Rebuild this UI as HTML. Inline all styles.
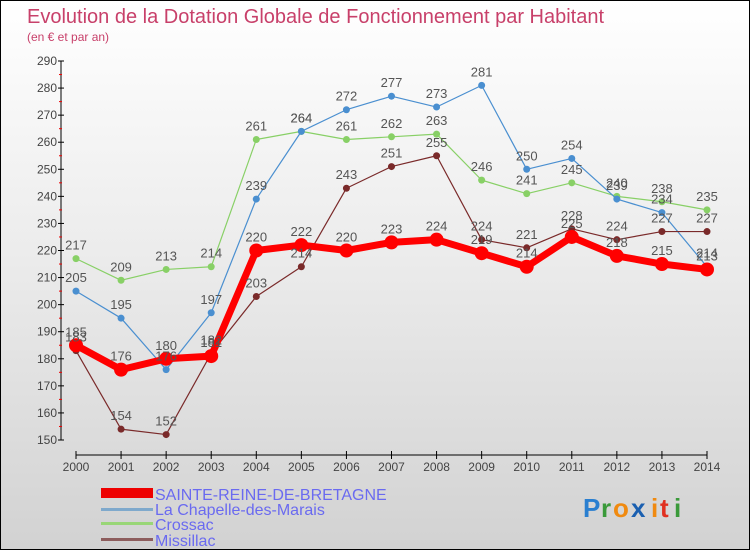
<!DOCTYPE html>
<html><head><meta charset="utf-8"><style>
body{margin:0}
#c{width:750px;height:550px;position:relative;overflow:hidden;box-sizing:border-box;border:1px solid #000;background:linear-gradient(#fff 0%,#eaeaea 50%,#d2d2d2 100%);font-family:"Liberation Sans",sans-serif}
svg text{font-family:"Liberation Sans",sans-serif}
</style></head><body>
<div id="c">
<svg id="s" width="750" height="550">
<text x="26" y="22" font-size="20" fill="#c8406a">Evolution de la Dotation Globale de Fonctionnement par Habitant</text>
<text x="26" y="40" font-size="12" fill="#c8406a">(en € et par an)</text>
<g id="axes"></g><g id="series"></g><g id="labels"></g>
<g>
<rect x="100" y="487" width="52" height="10" fill="#e00"/>
<text x="154" y="499" font-size="16" fill="#6a6af0">SAINTE-REINE-DE-BRETAGNE</text>
<rect x="100" y="507" width="52" height="3" fill="#7fa9cc"/>
<text x="154" y="514" font-size="16" fill="#6a6af0">La Chapelle-des-Marais</text>
<rect x="100" y="521" width="52" height="3" fill="#99d677"/>
<text x="154" y="529" font-size="16" fill="#6a6af0">Crossac</text>
<rect x="100" y="537" width="52" height="3" fill="#8d5d5d"/>
<text x="154" y="545" font-size="16" fill="#6a6af0">Missillac</text>
</g>
<g font-size="26" font-weight="bold">
<text x="582" y="516" fill="#2a7fd0">P</text><text x="600" y="516" fill="#3a9a3a">r</text><text x="612" y="516" fill="#f08a10">o</text><text x="630" y="516" fill="#1a5fb0">x</text><text x="650" y="516" fill="#f08a10">i</text><text x="659" y="516" fill="#e03020">t</text><text x="673" y="516" fill="#3a9a3a">i</text>
</g>
</svg>
</div>
<script>
const years=[2000,2001,2002,2003,2004,2005,2006,2007,2008,2009,2010,2011,2012,2013,2014];
const yTicks=[150,160,170,180,190,200,210,220,230,240,250,260,270,280,290];
const sainteReine=[185,176,180,181,220,222,220,223,224,219,214,225,218,215,213];
const chapelle=[205,195,176,197,239,264,272,277,273,281,250,254,239,234,214];
const crossac=[217,209,213,214,261,264,261,262,263,246,241,245,240,238,235];
const missillac=[183,154,152,182,203,214,243,251,255,224,221,228,224,227,227];
const NS="http://www.w3.org/2000/svg";
const X=i=>75+i*(706-75)/(years.length-1);
const Y=v=>439-(v-150)*(439-60)/140;
function mk(t,a,p){const e=document.createElementNS(NS,t);for(const k in a)e.setAttribute(k,a[k]);p.appendChild(e);return e;}
const ax=document.getElementById('axes');
let yl=mk('line',{x1:60,y1:60,x2:60,y2:439,stroke:'#000'},ax);


let xl=mk('line',{x1:75,y1:454,x2:706,y2:454,stroke:'#000'},ax);


yTicks.forEach((v,i)=>{
 mk('line',{x1:57,x2:63,y1:Y(v),y2:Y(v),stroke:'#000'},ax);
 if(i<yTicks.length-1)mk('line',{x1:58,x2:61,y1:Y(v+5),y2:Y(v+5),stroke:'#e00'},ax);
 const t=mk('text',{x:56,y:Y(v)+4,'font-size':12,fill:'#444','text-anchor':'end'},ax);
 t.textContent=v;
 
 
});
years.forEach((y,i)=>{
 mk('line',{x1:X(i),x2:X(i),y1:450,y2:458,stroke:'#000'},ax);
 const t=mk('text',{x:X(i),y:470,'font-size':12,fill:'#444','text-anchor':'middle'},ax);
 t.textContent=y;
 
 
});
const sg=document.getElementById('series'),lg=document.getElementById('labels');
function draw(vals,color,w,r,name){
 const p=mk('polyline',{points:vals.map((v,i)=>X(i)+','+Y(v)).join(' '),fill:'none',stroke:color,'stroke-width':w,'stroke-linejoin':'round'},sg);
 
 
 vals.forEach((v,i)=>{
  const c=mk('circle',{cx:X(i),cy:Y(v),r:r,fill:color},sg);
  
  
  const t=mk('text',{x:X(i),y:Y(v)-9,'font-size':13,fill:'#555','text-anchor':'middle'},lg);
  t.textContent=v;
  
  
 });
}
draw(crossac,'#88d066',1.2,3.5,'crossac');
draw(chapelle,'#4a8fd0',1.2,3.5,'chapelle');
draw(missillac,'#7a2a2a',1.2,3.5,'missillac');
draw(sainteReine,'#f00',7,7,'sainte-reine');
</script>
</body></html>
